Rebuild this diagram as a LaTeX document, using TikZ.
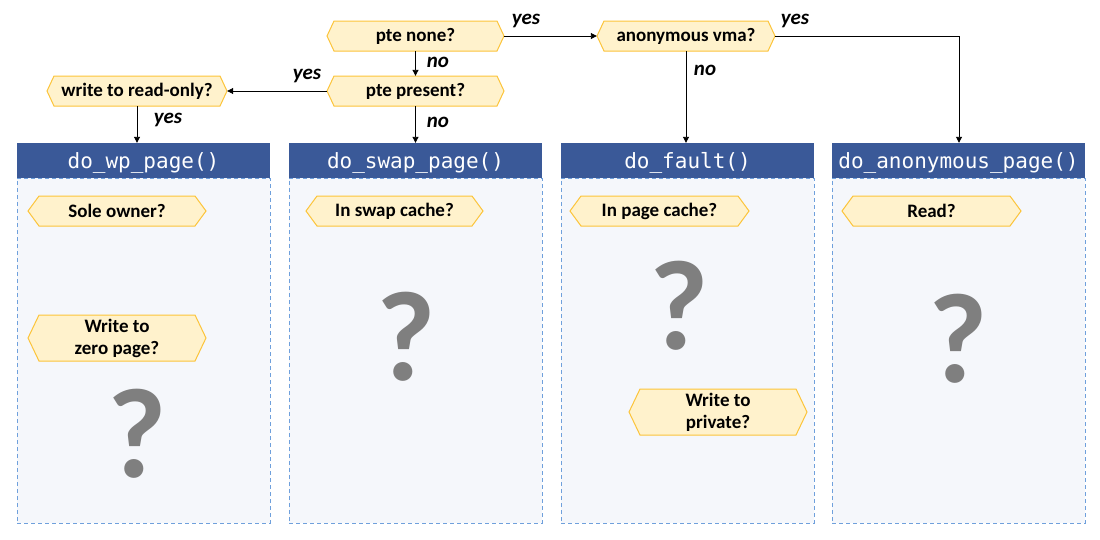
\documentclass[tikz,border=0pt]{standalone}
\usepackage{fontspec}
\setmainfont{Carlito}
\setmonofont{DejaVu Sans Mono}
\usetikzlibrary{arrows.meta,calc}
\definecolor{hexfill}{HTML}{FFF2CC}
\definecolor{hexdraw}{HTML}{FCC43A}
\definecolor{hdrblue}{HTML}{3A5998}
\definecolor{bodyfill}{HTML}{F5F7FB}
\definecolor{bodydash}{HTML}{6FA0DC}
\definecolor{qgray}{HTML}{7F7F7F}
\tikzset{
  hexline/.style={fill=hexfill, draw=hexdraw, line width=1pt, line join=miter},
  hextext/.style={inner sep=0pt, align=center, font=\fontsize{19}{22}\selectfont\bfseries},
  hdrbox/.style={fill=hdrblue, draw=none, minimum width=253pt, minimum height=35pt, inner sep=0pt, text=white, text height=17pt, text depth=1pt, font=\fontsize{21}{22}\selectfont\ttfamily},
  bodybox/.style={fill=bodyfill, draw=bodydash, line width=1pt, dash pattern=on 4pt off 3pt, minimum width=253pt, minimum height=345pt, inner sep=0pt},
  qmark/.style={inner sep=0pt, text=qgray, font=\fontsize{128}{128}\selectfont\bfseries},
  lbl/.style={inner sep=0pt, font=\fontsize{21}{22}\selectfont\bfseries\itshape},
  arr/.style={draw=black, line width=0.9pt, -{Triangle[length=6pt,width=6pt]}}
}
% name, cx, cy, width, height, slant, text
\newcommand{\hexq}[7]{%
  \filldraw[hexline] (#2-#4/2,#3) -- (#2-#4/2+#6,#3-#5/2) -- (#2+#4/2-#6,#3-#5/2) -- (#2+#4/2,#3) -- (#2+#4/2-#6,#3+#5/2) -- (#2-#4/2+#6,#3+#5/2) -- cycle;
  \node[hextext, minimum width=#4pt, minimum height=#5pt] (#1) at (#2,#3) {#7};
}
\begin{document}
\begin{tikzpicture}[x=1pt, y=-1pt]
\useasboundingbox (0,0) rectangle (1100,539);

% boxes
\node[bodybox] (b1) at (143.5,350.5) {};
\node[bodybox] (b2) at (415.5,350.5) {};
\node[bodybox] (b3) at (687.5,350.5) {};
\node[bodybox] (b4) at (958.5,350.5) {};
\node[hdrbox] (h1) at (143.5,160.5) {do\_wp\_page()};
\node[hdrbox] (h2) at (415.5,160.5) {do\_swap\_page()};
\node[hdrbox] (h3) at (687.5,160.5) {do\_fault()};
\node[hdrbox] (h4) at (958.5,160.5) {do\_anonymous\_page()};

% top decisions
\hexq{ptenone}{415.5}{36}{177}{30}{7}{pte none?}
\hexq{ptepresent}{415.5}{91}{177}{30}{7}{pte present?}
\hexq{wro}{137}{91}{180}{30}{7}{write to read-only?}
\hexq{anonvma}{686}{36}{178}{30}{7}{anonymous vma?}

% inner decisions
\hexq{sole}{117}{211}{178}{30}{11}{Sole owner?}
\hexq{zero}{117}{338}{178}{46}{11}{Write to\\zero page?}
\hexq{swapc}{394.5}{211}{177}{30}{11}{In swap cache?}
\hexq{pagec}{659.5}{211}{179}{30}{11}{In page cache?}
\hexq{priv}{718}{412}{178}{46}{11}{Write to\\private?}
\hexq{readq}{931.5}{211}{179}{30}{11}{Read?}

% question marks
\node[qmark] (q1) at (137,434) {?};
\node[qmark] (q2) at (406,337) {?};
\node[qmark] (q3) at (679,306) {?};
\node[qmark] (q4) at (958,339) {?};

% connectors
\draw[arr] (ptenone.east) -- (anonvma.west);
\draw[arr] (ptenone.south) -- (ptepresent.north);
\draw[arr] (ptepresent.west) -- (wro.east);
\draw[arr] (wro.south) -- (wro.south |- h1.north);
\draw[arr] (ptepresent.south) -- (ptepresent.south |- h2.north);
\draw[arr] (anonvma.south) -- (anonvma.south |- h3.north);
\coordinate (corner) at (959,36);
\draw[arr] (anonvma.east) -- (corner) -- (corner |- h4.north);

% labels
\node[lbl] (l1) at (526,21) {yes};
\node[lbl] (l2) at (438,62) {no};
\node[lbl] (l3) at (307,76) {yes};
\node[lbl] (l4) at (168,120) {yes};
\node[lbl] (l5) at (438,122) {no};
\node[lbl] (l6) at (705,70) {no};
\node[lbl] (l7) at (795,21) {yes};
\end{tikzpicture}
\end{document}
